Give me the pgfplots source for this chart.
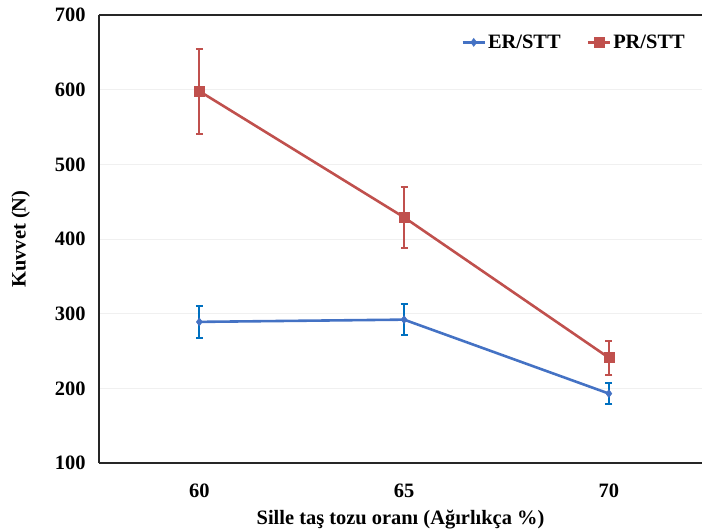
\documentclass[border=0pt]{standalone}
\usepackage{fontspec}
\setmainfont{Liberation Serif}
\usepackage{pgfplots}
\pgfplotsset{compat=1.18}

\definecolor{erline}{RGB}{68,114,196}
\definecolor{erbar}{RGB}{0,112,192}
\definecolor{prline}{RGB}{192,80,77}
\definecolor{gridc}{RGB}{240,240,240}

\begin{document}
\begin{tikzpicture}
\begin{axis}[
  name=ax,
  scale only axis,
  width=603bp, height=448bp,
  xmin=-0.49, xmax=2.455,
  ymin=100, ymax=700,
  xtick={0,1,2}, xticklabels={60,65,70},
  ytick={100,200,...,700},
  axis lines=left,
  axis line style={-, line width=2.2pt, black!85},
  major tick length=0pt,
  ymajorgrids, grid style={gridc, line width=0.8pt},
  tick label style={font=\fontsize{20.5}{24}\selectfont\bfseries},
  /pgf/number format/assume math mode=true,
  yticklabel style={xshift=-10bp},
  xticklabel style={yshift=-17bp},
  xlabel={Sille taş tozu oranı (Ağırlıkça \%)},
  ylabel={Kuvvet (N)},
  label style={font=\fontsize{20.5}{24}\selectfont\bfseries},
  xlabel style={yshift=-6bp},
  ylabel style={yshift=18bp},
  clip=false,
  legend columns=2,
  legend style={draw=none, fill=none, at={(0.98,0.965)}, anchor=north east,
    font=\fontsize{20.5}{24}\selectfont\bfseries,
    /tikz/every even column/.append style={column sep=24bp}},
  legend image code/.code={
    \draw[#1] (0bp,0bp) -- (22bp,0bp);
    \draw[#1, only marks] plot coordinates {(11bp,0bp)};
  },
]
\addplot[erline, line width=2.6pt, mark=diamond*, mark size=4pt,
  mark options={fill=erline, draw=erline, line width=0.5pt},
  error bars/.cd, y dir=both, y explicit,
  error bar style={erbar, line width=2pt},
  error mark options={erbar, line width=2pt, mark size=3.5bp, rotate=90}]
  coordinates {
    (0,289) +- (0,21)
    (1,292) +- (0,21)
    (2,193) +- (0,14)
  };
\addlegendentry{ER/STT}
\addplot[prline, line width=2.6pt, mark=square*, mark size=5pt,
  mark options={fill=prline, draw=prline, line width=0.5pt},
  error bars/.cd, y dir=both, y explicit,
  error bar style={prline, line width=2pt},
  error mark options={prline, line width=2pt, mark size=3.5bp, rotate=90}]
  coordinates {
    (0,598) +- (0,57)
    (1,429) +- (0,41)
    (2,241) +- (0,23)
  };
\addlegendentry{PR/STT}
\draw[line width=2.2pt, black!85] (rel axis cs:0,1) -- (rel axis cs:1,1);
\end{axis}
\pgfresetboundingbox
\path ([xshift=-99bp,yshift=-68bp]ax.south west) rectangle ([yshift=15bp]ax.north east);
\end{tikzpicture}
\end{document}
